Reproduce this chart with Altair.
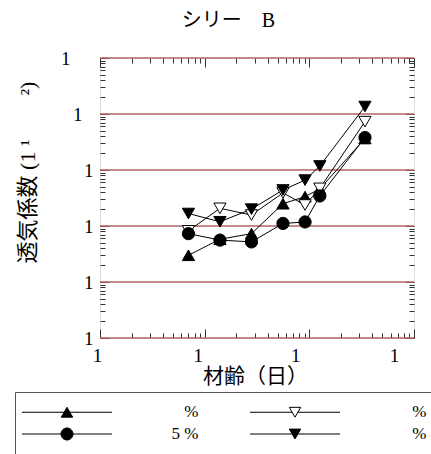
import json
import altair as alt
import pandas as pd

# ---------------- data ----------------
ages = [7, 14, 28, 56, 91, 126, 340]
series_keys = ["a", "b", "c", "d"]          # ▲, ▽, ●, ▼
vals_up = [0.030, 0.058, 0.073, 0.25, 0.335, 0.46, 3.65]
vals_open = [0.082, 0.207, 0.157, 0.39, 0.237, 0.47, 7.3]
vals_circle = [0.073, 0.056, 0.052, 0.111, 0.118, 0.344, 3.8]
vals_down = [0.167, 0.119, 0.20, 0.44, 0.66, 1.18, 13.6]
legend_labels = ["%", "%", "5 %", "%"]

x_decades = [1, 10, 100, 1000]
y_decades = [0.001, 0.01, 0.1, 1, 10, 100]
x_ticks_all = [m * 10 ** e for e in range(0, 3) for m in range(1, 10)] + [1000]
y_ticks_all = [m * 10.0 ** e for e in range(-3, 2) for m in range(1, 10)] + [100]

series_vals = [vals_up, vals_open, vals_circle, vals_down]
rows = []
for key, vals in zip(series_keys, series_vals):
    for a, v in zip(ages, vals):
        rows.append({"series": key, "age": a, "val": v})
df = pd.DataFrame(rows)
grid_df = pd.DataFrame({"v": y_decades})
legend_df = pd.DataFrame({"key": series_keys, "label": legend_labels})

SERIF = "Liberation Serif, Noto Sans CJK JP"
W, H = 314, 280

xscale = alt.Scale(type="log", domain=[1, 1000], nice=False)
yscale = alt.Scale(type="log", domain=[0.001, 100], nice=False)

x_major_test = "indexof(%s, datum.value) >= 0" % json.dumps(x_decades)
y_major_test = "indexof(%s, datum.value) >= 0" % json.dumps(y_decades)


def tick_axis(orient, offset, values, test, **extra):
    kw = dict(
        orient=orient, offset=offset, values=values, labels=False,
        domain=False, grid=False, ticks=True, tickColor="#333",
        tickWidth=1,
        tickSize={"condition": {"test": test, "value": 9}, "value": 5},
        title=None,
    )
    kw.update(extra)
    return alt.Axis(**kw)


x_label_axis = alt.Axis(
    orient="bottom", values=x_decades, labelExpr="'1'", ticks=False,
    tickSize=0, domain=False, grid=False, labelFont=SERIF, labelFontSize=19,
    labelColor="black", labelPadding=8, labelFlush=False, labelOverlap=False,
    labelBound=False,
    labelOffset={"condition": [
        {"test": "datum.value == 10", "value": -7},
        {"test": "datum.value == 100", "value": -14},
        {"test": "datum.value == 1000", "value": -20}], "value": -3},
    title="材齢（日）", titleFont=SERIF, titleFontSize=21,
    titleFontWeight="normal", titleColor="black", titleX=155, titleY=38,
    titleAlign="center", titleBaseline="middle",
)

y_label_axis = alt.Axis(
    orient="left", values=y_decades, labelExpr="'1'", ticks=False,
    tickSize=0, domain=False, grid=False, labelFont=SERIF, labelFontSize=19,
    labelColor="black", labelFlush=False, labelOverlap=False, labelBound=False,
    labelPadding={"condition": [
        {"test": "datum.value == 100", "value": 30},
        {"test": "datum.value == 10", "value": 18}], "value": 7},
    title="透気係数 (1 ¹　　²)", titleFont=SERIF, titleFontSize=22,
    titleFontWeight="normal", titleColor="black", titleAngle=270,
    titleX=-73, titleY=114, titleAlign="center", titleBaseline="middle",
)

grid = alt.Chart(grid_df).mark_rule(color="#b46262", strokeWidth=1.3).encode(
    y=alt.Y("v:Q", scale=yscale, axis=y_label_axis)
)

lines = alt.Chart(df).mark_line(color="black", strokeWidth=1).encode(
    x=alt.X("age:Q", scale=xscale, axis=x_label_axis),
    y=alt.Y("val:Q", scale=yscale, axis=None),
    detail="series:N",
    order="age:Q",
)

points = alt.Chart(df).mark_point(
    filled=True, size=150, stroke="black", strokeWidth=1, opacity=1
).encode(
    x=alt.X("age:Q", scale=xscale, axis=None),
    y=alt.Y("val:Q", scale=yscale, axis=None),
    shape=alt.Shape("series:N", scale=alt.Scale(
        domain=series_keys,
        range=["triangle-up", "triangle-down", "circle", "triangle-down"]),
        legend=None),
    fill=alt.Fill("series:N", scale=alt.Scale(
        domain=series_keys, range=["black", "white", "black", "black"]),
        legend=None),
)

ticks_a = alt.Chart(df).mark_point(opacity=0).encode(
    x=alt.X("age:Q", scale=xscale,
            axis=tick_axis("top", -H, x_ticks_all, x_major_test)),
    y=alt.Y("val:Q", scale=yscale,
            axis=tick_axis("right", -W, y_ticks_all, y_major_test)),
)
ticks_b = alt.Chart(df).mark_point(opacity=0).encode(
    x=alt.X("age:Q", scale=xscale,
            axis=tick_axis("bottom", -H, x_ticks_all, x_major_test,
                           title="シリー　B", titleFont=SERIF,
                           titleFontSize=20, titleFontWeight="normal",
                           titleColor="black", titleX=128, titleY=-38,
                           titleAlign="center", titleBaseline="middle",
                           titleAngle=0)),
    y=alt.Y("val:Q", scale=yscale,
            axis=tick_axis("left", -W, y_ticks_all, y_major_test)),
)

legend_paths = [
    "M-7.5,0H7.5M0,-0.82L0.95,0.82L-0.95,0.82Z",
    "M-7.5,0H-0.475M0.475,0H7.5M-0.95,-0.82L0.95,-0.82L0,0.82Z",
    "M-7.5,0H7.5M-1,0A1,1 0 1,0 1,0A1,1 0 1,0 -1,0Z",
    "M-7.5,0H7.5M-0.95,-0.82L0.95,-0.82L0,0.82Z",
]
leg = alt.Legend(
    orient="none", legendX=-85, legendY=334, direction="horizontal",
    columns=2, title=None, padding=11.5, rowPadding=4, columnPadding=49,
    symbolSize=144, symbolStrokeWidth=1, symbolStrokeColor="black",
    symbolOpacity=1, symbolOffset=32, labelOffset=123, labelAlign="right",
    labelFont=SERIF, labelFontSize=17, labelColor="black",
    labelExpr="datum.label == 'c' ? '5 %' : '%'",
    strokeColor="#555",
)
legend_layer = alt.Chart(legend_df).mark_point(
    opacity=0, size=144, filled=False, strokeWidth=1
).encode(
    shape=alt.Shape("key:N", scale=alt.Scale(domain=series_keys,
                                             range=legend_paths), legend=leg),
    fill=alt.Fill("key:N", scale=alt.Scale(
        domain=series_keys, range=["black", "white", "black", "black"]),
        legend=leg),
    stroke=alt.Stroke("key:N", scale=alt.Scale(
        domain=series_keys, range=["black", "black", "black", "black"]),
        legend=leg),
)

chart = alt.layer(
    grid, lines, points, ticks_a, ticks_b, legend_layer
).resolve_axis(
    x="independent", y="independent"
).resolve_scale(
    shape="independent", fill="independent", stroke="independent"
).properties(
    width=W, height=H,
    autosize=alt.AutoSizeParams(type="none"),
    padding={"left": 100, "top": 58, "right": 17, "bottom": 116},
).configure_view(
    stroke="#2a2a2a", strokeWidth=1.5
).configure(background="white")

chart.save("out.html", embed_options={"renderer": "svg", "actions": False})
